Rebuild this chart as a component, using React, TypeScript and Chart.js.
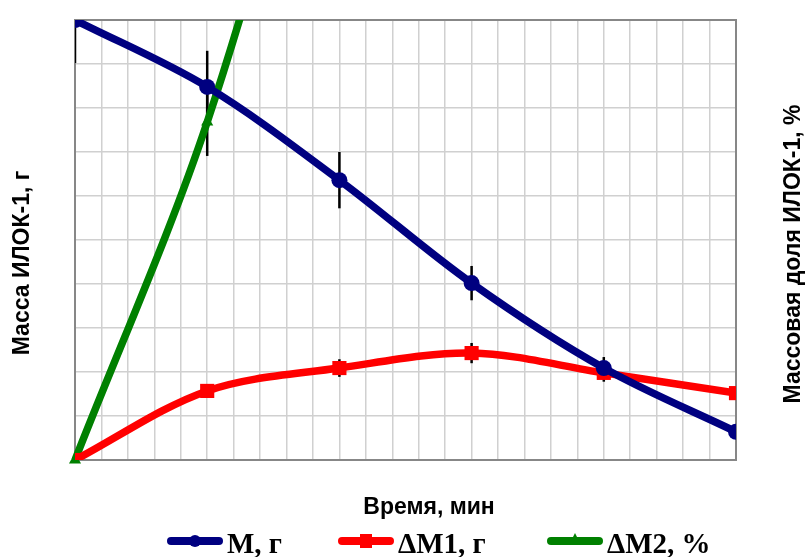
import React, { useEffect, useRef } from "react";
import { Chart, registerables } from "chart.js";

Chart.register(...registerables);

// Time, min (x positions of measurements)
const timeMin = [0, 5, 10, 15, 20, 25];
// M, g (left axis)
const massM = [10.0, 8.48, 6.36, 4.02, 2.09, 0.64];
const massMErr = [0.98, 0.82, 0.64, 0.39, 0.25, 0];
// ΔM1, g (left axis)
const deltaM1 = [0, 1.57, 2.09, 2.43, 1.98, 1.52];
const deltaM1Err = [0, 0, 0.2, 0.23, 0.2, 0];
// ΔM2, % (right axis)
const deltaM2 = [0, 7.68, 18];
const deltaM2Err = [0, 0.77, 0];

const labelM = "M, г";
const labelM1 = "ΔM1, г";
const labelM2 = "ΔM2, %";
const xTitle = "Время, мин";
const yTitle = "Масса ИЛОК-1, г";
const y1Title = "Массовая доля ИЛОК-1, %";

const NAVY = "#000080";
const RED = "#FF0000";
const GREEN = "#008000";

const toPts = (vals: number[]) => vals.map((v, i) => ({ x: timeMin[i], y: v }));

const decor = {
  id: "decor",
  beforeDatasetsDraw(chart: any) {
    const { ctx, chartArea: a, scales } = chart;
    ctx.save();
    ctx.strokeStyle = "#878787";
    ctx.lineWidth = 2;
    ctx.strokeRect(a.left, a.top, a.right - a.left, a.bottom - a.top);
    ctx.beginPath();
    ctx.rect(a.left, a.top, a.right - a.left, a.bottom - a.top);
    ctx.clip();
    ctx.strokeStyle = "#000";
    ctx.lineWidth = 2.5;
    const bars = (vals: number[], errs: number[], axis: string) => {
      vals.forEach((v, i) => {
        const e = errs[i] || 0;
        if (!e) return;
        const px = scales.x.getPixelForValue(timeMin[i]);
        ctx.beginPath();
        ctx.moveTo(px, scales[axis].getPixelForValue(v + e));
        ctx.lineTo(px, scales[axis].getPixelForValue(v - e));
        ctx.stroke();
      });
    };
    bars(massM, massMErr, "y");
    bars(deltaM1, deltaM1Err, "y");
    bars(deltaM2, deltaM2Err, "y1");
    ctx.restore();
  },
  afterDraw(chart: any) {
    const { ctx } = chart;
    ctx.save();
    ctx.fillStyle = "#000";
    ctx.font = 'bold 23px "Liberation Sans", Arial, sans-serif';
    ctx.textAlign = "center";
    ctx.textBaseline = "middle";
    ctx.fillText(xTitle, 429, 508);
    ctx.save();
    ctx.translate(23, 263);
    ctx.rotate(-Math.PI / 2);
    ctx.fillText(yTitle, 0, 0);
    ctx.restore();
    ctx.save();
    ctx.translate(794, 254);
    ctx.rotate(-Math.PI / 2);
    ctx.fillText(y1Title, 0, 0);
    ctx.restore();

    // legend
    const items = [
      { x: 167, color: NAVY, label: labelM, marker: "circle" },
      { x: 338, color: RED, label: labelM1, marker: "rect" },
      { x: 547, color: GREEN, label: labelM2, marker: "triangle" },
    ];
    const ly = 541;
    items.forEach((it) => {
      ctx.strokeStyle = it.color;
      ctx.fillStyle = it.color;
      ctx.lineWidth = 8;
      ctx.lineCap = "round";
      ctx.beginPath();
      ctx.moveTo(it.x + 4, ly);
      ctx.lineTo(it.x + 52, ly);
      ctx.stroke();
      const cx = it.x + 28;
      if (it.marker === "circle") {
        ctx.beginPath();
        ctx.arc(cx, ly, 6, 0, Math.PI * 2);
        ctx.fill();
      } else if (it.marker === "rect") {
        ctx.fillRect(cx - 6, ly - 7, 12, 14);
      } else {
        ctx.beginPath();
        ctx.moveTo(cx, ly - 8);
        ctx.lineTo(cx + 6, ly + 4);
        ctx.lineTo(cx - 6, ly + 4);
        ctx.closePath();
        ctx.fill();
      }
      ctx.fillStyle = "#000";
      ctx.font = 'bold 29px "Liberation Serif", "Times New Roman", serif';
      ctx.textAlign = "left";
      ctx.textBaseline = "alphabetic";
      ctx.fillText(it.label, it.x + 60, 553);
    });
    ctx.restore();
  },
};

export default function App() {
  const ref = useRef<HTMLCanvasElement | null>(null);
  useEffect(() => {
    if (!ref.current) return;
    const chart = new Chart(ref.current, {
      type: "line",
      data: {
        datasets: [
          {
            label: labelM,
            data: toPts(massM),
            borderColor: NAVY,
            backgroundColor: NAVY,
            borderWidth: 7.5,
            pointStyle: "circle",
            pointRadius: 8,
            pointBorderWidth: 0,
            pointBackgroundColor: NAVY,
            tension: 0.33,
            yAxisID: "y",
          },
          {
            label: labelM1,
            data: toPts(deltaM1),
            borderColor: RED,
            backgroundColor: RED,
            borderWidth: 7.5,
            pointStyle: "rect",
            pointRadius: 10,
            pointBorderWidth: 0,
            pointBackgroundColor: RED,
            tension: 0.33,
            yAxisID: "y",
          },
          {
            label: labelM2,
            data: toPts(deltaM2),
            borderColor: GREEN,
            backgroundColor: GREEN,
            borderWidth: 7.5,
            pointStyle: "triangle",
            pointRadius: 7,
            pointBorderWidth: 0,
            pointBackgroundColor: GREEN,
            tension: 0.33,
            yAxisID: "y1",
            clip: { left: 10, top: 0, right: 0, bottom: 10 } as any,
          },
        ],
      },
      options: {
        animation: false,
        responsive: false,
        devicePixelRatio: 1,
        layout: { padding: { left: 75, right: 71, top: 20, bottom: 97 } },
        plugins: { legend: { display: false }, tooltip: { enabled: false } },
        scales: {
          x: {
            type: "linear",
            min: 0,
            max: 25,
            ticks: { display: false, stepSize: 1 },
            grid: { color: "#d0d0d0", lineWidth: 1.5, drawTicks: false },
            border: { display: false },
          },
          y: {
            min: 0,
            max: 10,
            ticks: { display: false, stepSize: 1 },
            grid: { color: "#d0d0d0", lineWidth: 1.5, drawTicks: false },
            border: { display: false },
          },
          y1: {
            position: "right",
            display: false,
            min: 0,
            max: 10,
          },
        },
      },
      plugins: [decor],
    });
    return () => chart.destroy();
  }, []);
  return (
    <div style={{ position: "fixed", left: 0, top: 0, width: 807, height: 557, background: "#fff" }}>
      <canvas ref={ref} width={807} height={557} />
    </div>
  );
}
